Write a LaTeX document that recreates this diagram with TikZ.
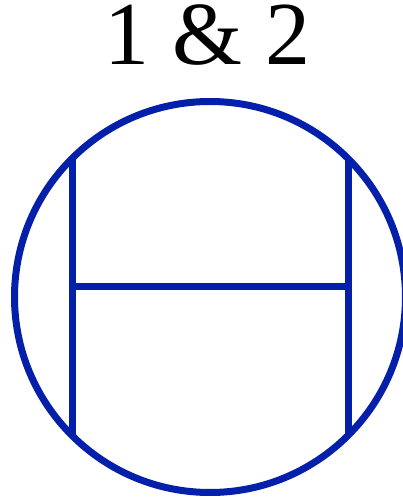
\documentclass[tikz,border=0pt]{standalone}
\usepackage{fontspec}
\setmainfont{Liberation Serif}
\definecolor{dblue}{RGB}{4,32,170}
\begin{document}
\begin{tikzpicture}[x=1pt,y=1pt,
  edge/.style={draw=dblue,line width=7pt}]
\useasboundingbox (0,0) rectangle (403,498);
\coordinate (c) at (210,201);
\node[anchor=base,inner sep=0pt,text height=60pt,text depth=2pt,font=\fontsize{90}{94}\selectfont] (title) at (207.5,433) {1 \& 2};
\draw[edge] (c) circle (195.5);
\coordinate (tl) at (72,339.5);
\coordinate (bl) at (72,62.5);
\coordinate (tr) at (348,339.5);
\coordinate (br) at (348,62.5);
\coordinate (ml) at (72,211);
\coordinate (mr) at (348,211);
\draw[edge] (tl) -- (bl);
\draw[edge] (tr) -- (br);
\draw[edge] (ml) -- (mr);
\end{tikzpicture}
\end{document}
